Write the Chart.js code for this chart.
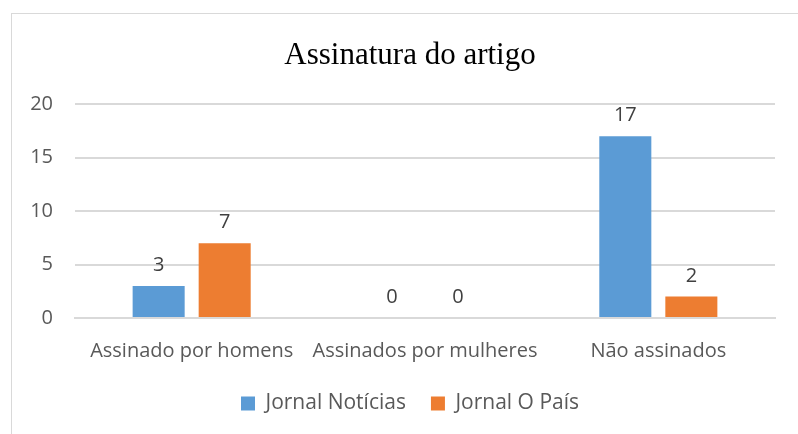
<!DOCTYPE html>
<html>
<head>
<meta charset="utf-8">
<script src="https://cdn.jsdelivr.net/npm/chart.js@4/dist/chart.umd.min.js"></script>
<style>
  body { margin: 0; background: #fff; overflow: hidden; }
  #box { position: absolute; left: 11px; top: 13px; width: 800px; height: 430px; border: 1px solid #d9d9d9; }
  #wrap { position: absolute; left: 0; top: 0; width: 796px; height: 420px; }
</style>
</head>
<body>
<div id="box"><div id="wrap"><canvas id="chart"></canvas></div></div>
<script>
const categories = ['Assinado por homens', 'Assinados por mulheres', 'Não assinados'];
const noticias = [3, 0, 17];
const oPais = [7, 0, 2];
const yTicks = [0, 5, 10, 15, 20];

const font = '"Open Sans"';

// little plugin for the value labels over the bars
const barLabels = {
  id: 'barLabels',
  afterDatasetsDraw(chart) {
    const ctx = chart.ctx;
    ctx.save();
    ctx.font = '20px ' + font;
    ctx.fillStyle = '#404040';
    ctx.textAlign = 'center';
    ctx.textBaseline = 'alphabetic';
    chart.data.datasets.forEach((ds, i) => {
      chart.getDatasetMeta(i).data.forEach((bar, j) => {
        ctx.fillText(ds.data[j], bar.x, bar.y - 15);
      });
    });
    ctx.restore();
  }
};

new Chart(document.getElementById('chart'), {
  type: 'bar',
  data: {
    labels: categories,
    datasets: [
      { label: 'Jornal Notícias', data: noticias, backgroundColor: '#5B9BD5' },
      { label: 'Jornal O País', data: oPais, backgroundColor: '#ED7D31' }
    ]
  },
  options: {
    responsive: true,
    maintainAspectRatio: false,
    animation: false,
    categoryPercentage: 0.566,
    barPercentage: 0.788,
    layout: { padding: { left: 0, right: 0, top: 0, bottom: 10 } },
    plugins: {
      title: {
        display: true,
        text: 'Assinatura do artigo',
        color: '#000',
        font: { family: '"Liberation Serif", "Times New Roman", serif', size: 31, weight: 'normal' },
        padding: { top: 23, bottom: 30 }
      },
      legend: {
        position: 'bottom',
        labels: {
          color: '#595959',
          font: { family: font, size: 21 },
          boxWidth: 14,
          boxHeight: 14,
          padding: 25
        }
      },
      tooltip: { enabled: false }
    },
    scales: {
      x: {
        afterFit(axis) { axis.height = 50; },
        grid: { display: false, drawTicks: false },
        border: { color: '#d9d9d9', width: 2 },
        ticks: { color: '#595959', font: { family: font, size: 20 }, padding: 21, maxRotation: 0, autoSkip: false }
      },
      y: {
        min: 0,
        max: 20,
        afterFit(axis) { axis.width = 63; },
        afterBuildTicks(axis) { axis.ticks = yTicks.map(v => ({ value: v })); },
        grid: { color: '#d9d9d9', lineWidth: 2, drawTicks: false },
        border: { display: false },
        ticks: { color: '#595959', font: { family: font, size: 20 }, padding: 22 }
      },
      // empty axis on the right, only keeps the plot off the right edge
      yRight: {
        position: 'right',
        afterFit(axis) { axis.width = 33; },
        grid: { display: false, drawTicks: false },
        border: { display: false },
        ticks: { display: false }
      }
    }
  },
  plugins: [barLabels]
});
</script>
</body>
</html>
